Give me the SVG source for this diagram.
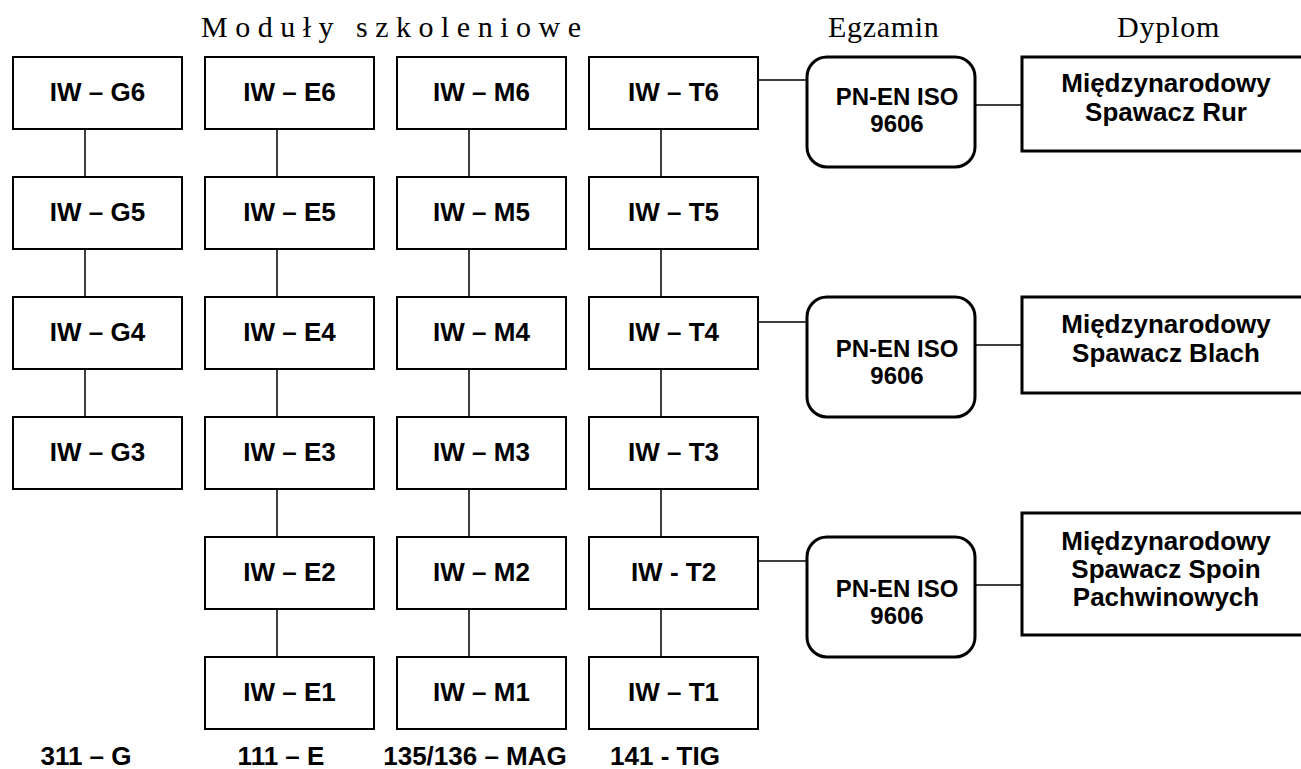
<svg xmlns="http://www.w3.org/2000/svg" width="1301" height="769" viewBox="0 0 1301 769">
<style>
.bx{fill:#fff;stroke:#000;stroke-width:2}
.rb{fill:#fff;stroke:#000;stroke-width:3}
.db{fill:#fff;stroke:#000;stroke-width:3}
.ln{stroke:#000;stroke-width:1.5;fill:none}
.t{font-family:"Liberation Sans",Arial,sans-serif;font-weight:bold;font-size:26px;text-anchor:middle;fill:#000}
.p{font-family:"Liberation Sans",Arial,sans-serif;font-weight:bold;font-size:24px;text-anchor:middle;fill:#000}
.b{font-family:"Liberation Sans",Arial,sans-serif;font-weight:bold;font-size:26px;text-anchor:middle;fill:#000}
.h{font-family:"Liberation Serif","Times New Roman",serif;font-size:30px;fill:#000}
</style>
<rect width="1301" height="769" fill="#fff"/>
<g id="connectors">
<path class="ln" d="M85 129V177M85 249V297M85 369V417"/>
<path class="ln" d="M277 129V177M277 249V297M277 369V417M277 489V537M277 609V657"/>
<path class="ln" d="M469 129V177M469 249V297M469 369V417M469 489V537M469 609V657"/>
<path class="ln" d="M661 129V177M661 249V297M661 369V417M661 489V537M661 609V657"/>
<path class="ln" d="M758 80H807M975 105H1022M758 322H807M975 345H1022M758 561H807M975 585H1022"/>
</g>
<g id="headers">
<text class="h" x="201" y="37" letter-spacing="7.5">Moduły szkoleniowe</text>
<text class="h" x="828" y="37" letter-spacing="0.7">Egzamin</text>
<text class="h" x="1117" y="37" letter-spacing="0.8">Dyplom</text>
</g>
<g id="G6"><rect class="bx" x="13" y="57" width="169" height="72"/><text class="t" x="97.5" y="101">IW – G6</text></g>
<g id="G5"><rect class="bx" x="13" y="177" width="169" height="72"/><text class="t" x="97.5" y="221">IW – G5</text></g>
<g id="G4"><rect class="bx" x="13" y="297" width="169" height="72"/><text class="t" x="97.5" y="341">IW – G4</text></g>
<g id="G3"><rect class="bx" x="13" y="417" width="169" height="72"/><text class="t" x="97.5" y="461">IW – G3</text></g>
<g id="E6"><rect class="bx" x="205" y="57" width="169" height="72"/><text class="t" x="289.5" y="101">IW – E6</text></g>
<g id="E5"><rect class="bx" x="205" y="177" width="169" height="72"/><text class="t" x="289.5" y="221">IW – E5</text></g>
<g id="E4"><rect class="bx" x="205" y="297" width="169" height="72"/><text class="t" x="289.5" y="341">IW – E4</text></g>
<g id="E3"><rect class="bx" x="205" y="417" width="169" height="72"/><text class="t" x="289.5" y="461">IW – E3</text></g>
<g id="E2"><rect class="bx" x="205" y="537" width="169" height="72"/><text class="t" x="289.5" y="581">IW – E2</text></g>
<g id="E1"><rect class="bx" x="205" y="657" width="169" height="72"/><text class="t" x="289.5" y="701">IW – E1</text></g>
<g id="M6"><rect class="bx" x="397" y="57" width="169" height="72"/><text class="t" x="481.5" y="101">IW – M6</text></g>
<g id="M5"><rect class="bx" x="397" y="177" width="169" height="72"/><text class="t" x="481.5" y="221">IW – M5</text></g>
<g id="M4"><rect class="bx" x="397" y="297" width="169" height="72"/><text class="t" x="481.5" y="341">IW – M4</text></g>
<g id="M3"><rect class="bx" x="397" y="417" width="169" height="72"/><text class="t" x="481.5" y="461">IW – M3</text></g>
<g id="M2"><rect class="bx" x="397" y="537" width="169" height="72"/><text class="t" x="481.5" y="581">IW – M2</text></g>
<g id="M1"><rect class="bx" x="397" y="657" width="169" height="72"/><text class="t" x="481.5" y="701">IW – M1</text></g>
<g id="T6"><rect class="bx" x="589" y="57" width="169" height="72"/><text class="t" x="673.5" y="101">IW – T6</text></g>
<g id="T5"><rect class="bx" x="589" y="177" width="169" height="72"/><text class="t" x="673.5" y="221">IW – T5</text></g>
<g id="T4"><rect class="bx" x="589" y="297" width="169" height="72"/><text class="t" x="673.5" y="341">IW – T4</text></g>
<g id="T3"><rect class="bx" x="589" y="417" width="169" height="72"/><text class="t" x="673.5" y="461">IW – T3</text></g>
<g id="T2"><rect class="bx" x="589" y="537" width="169" height="72"/><text class="t" x="673.5" y="581">IW - T2</text></g>
<g id="T1"><rect class="bx" x="589" y="657" width="169" height="72"/><text class="t" x="673.5" y="701">IW – T1</text></g>
<g id="EX1"><rect class="rb" x="807" y="57" width="168" height="110" rx="20"/><text class="p" x="897" y="105">PN-EN ISO</text><text class="p" x="897" y="132">9606</text></g>
<g id="EX2"><rect class="rb" x="807" y="297" width="168" height="120" rx="20"/><text class="p" x="897" y="357">PN-EN ISO</text><text class="p" x="897" y="384">9606</text></g>
<g id="EX3"><rect class="rb" x="807" y="537" width="168" height="120" rx="20"/><text class="p" x="897" y="597">PN-EN ISO</text><text class="p" x="897" y="624">9606</text></g>
<g id="D1"><rect class="db" x="1022" y="57" width="300" height="94"/><text class="t" x="1166" y="92">Międzynarodowy</text><text class="t" x="1166" y="121">Spawacz Rur</text></g>
<g id="D2"><rect class="db" x="1022" y="297" width="300" height="96"/><text class="t" x="1166" y="333">Międzynarodowy</text><text class="t" x="1166" y="362">Spawacz Blach</text></g>
<g id="D3"><rect class="db" x="1022" y="513" width="300" height="122"/><text class="t" x="1166" y="550">Międzynarodowy</text><text class="t" x="1166" y="578">Spawacz Spoin</text><text class="t" x="1166" y="606">Pachwinowych</text></g>
<g id="labels">
<text class="b" x="86" y="765">311 – G</text>
<text class="b" x="281" y="765">111 – E</text>
<text class="b" x="475" y="765">135/136 – MAG</text>
<text class="b" x="665" y="765">141 - TIG</text>
</g>
</svg>
